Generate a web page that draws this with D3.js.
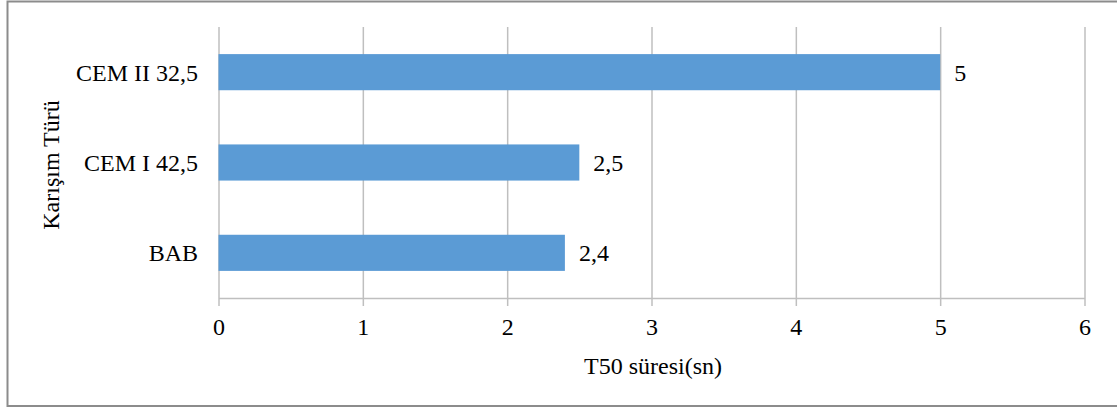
<!DOCTYPE html>
<html>
<head>
<meta charset="utf-8">
<script src="https://cdn.jsdelivr.net/npm/d3@7"></script>
<style>
  body { margin: 0; background: #fff; }
  text { font-family: "Liberation Serif", "Times New Roman", serif; fill: #000; }
</style>
</head>
<body>
<svg id="chart"></svg>
<script>
var width = 1117;
var height = 408;

var categories = ["CEM II 32,5", "CEM I 42,5", "BAB"];
var values = [5, 2.5, 2.4];
var valueLabels = ["5", "2,5", "2,4"];
var xTicks = [0, 1, 2, 3, 4, 5, 6];
var xTitle = "T50 süresi(sn)";
var yTitle = "Karışım Türü";

var svg = d3.select("#chart")
            .attr("width", width)
            .attr("height", height);

// outer frame (right edge runs off the picture)
svg.append("rect")
    .attr("x", 7.5)
    .attr("y", 1.5)
    .attr("width", width + 10)
    .attr("height", 404.5)
    .attr("fill", "#fff")
    .attr("stroke", "#8c8c8c")
    .attr("stroke-width", 2);

var xScale = d3.scaleLinear()
               .domain([0, 6])
               .range([218.5, 1084.5]);

var yScale = d3.scaleBand()
               .domain(categories)
               .range([27, 298])
               .paddingInner(0.6)
               .paddingOuter(0.3);

var xAxis = d3.axisBottom(xScale)
              .tickValues(xTicks)
              .tickSize(-(298 - 27))
              .tickSizeOuter(0)
              .tickFormat(d => d);

var gx = svg.append("g")
    .attr("transform", "translate(0,298)")
    .call(xAxis);

gx.select(".domain").attr("stroke", "#bfbfbf").attr("stroke-width", 1.5);
gx.selectAll(".tick line")
    .attr("stroke", "#bfbfbf")
    .attr("stroke-width", 1.5)
    .attr("y2", 8)
    .attr("y1", -(298 - 27));
gx.selectAll(".tick text")
    .attr("dy", 0)
    .attr("y", 37)
    .style("font-size", "24px")
    .style("font-family", "'Liberation Serif', serif");

// category labels
svg.selectAll(".cat")
    .data(categories)
    .enter()
    .append("text")
    .classed("cat", true)
    .attr("x", 198)
    .attr("y", d => yScale(d) + yScale.bandwidth() / 2)
    .attr("dy", "0.35em")
    .attr("text-anchor", "end")
    .style("font-size", "24px")
    .text(d => d);

svg.selectAll(".bar")
    .data(values)
    .enter()
    .append("rect")
    .classed("bar", true)
    .attr("x", xScale(0))
    .attr("y", (d, i) => yScale(categories[i]))
    .attr("width", d => xScale(d) - xScale(0))
    .attr("height", yScale.bandwidth())
    .attr("fill", "#5b9bd5");

svg.selectAll(".val")
    .data(values)
    .enter()
    .append("text")
    .classed("val", true)
    .attr("x", d => xScale(d) + 14)
    .attr("y", (d, i) => yScale(categories[i]) + yScale.bandwidth() / 2)
    .attr("dy", "0.35em")
    .style("font-size", "24px")
    .text((d, i) => valueLabels[i]);

svg.append("text")
    .attr("x", 653)
    .attr("y", 374)
    .attr("text-anchor", "middle")
    .style("font-size", "24px")
    .text(xTitle);

svg.append("text")
    .attr("transform", "translate(59,165) rotate(-90)")
    .attr("text-anchor", "middle")
    .style("font-size", "24px")
    .text(yTitle);
</script>
</body>
</html>
